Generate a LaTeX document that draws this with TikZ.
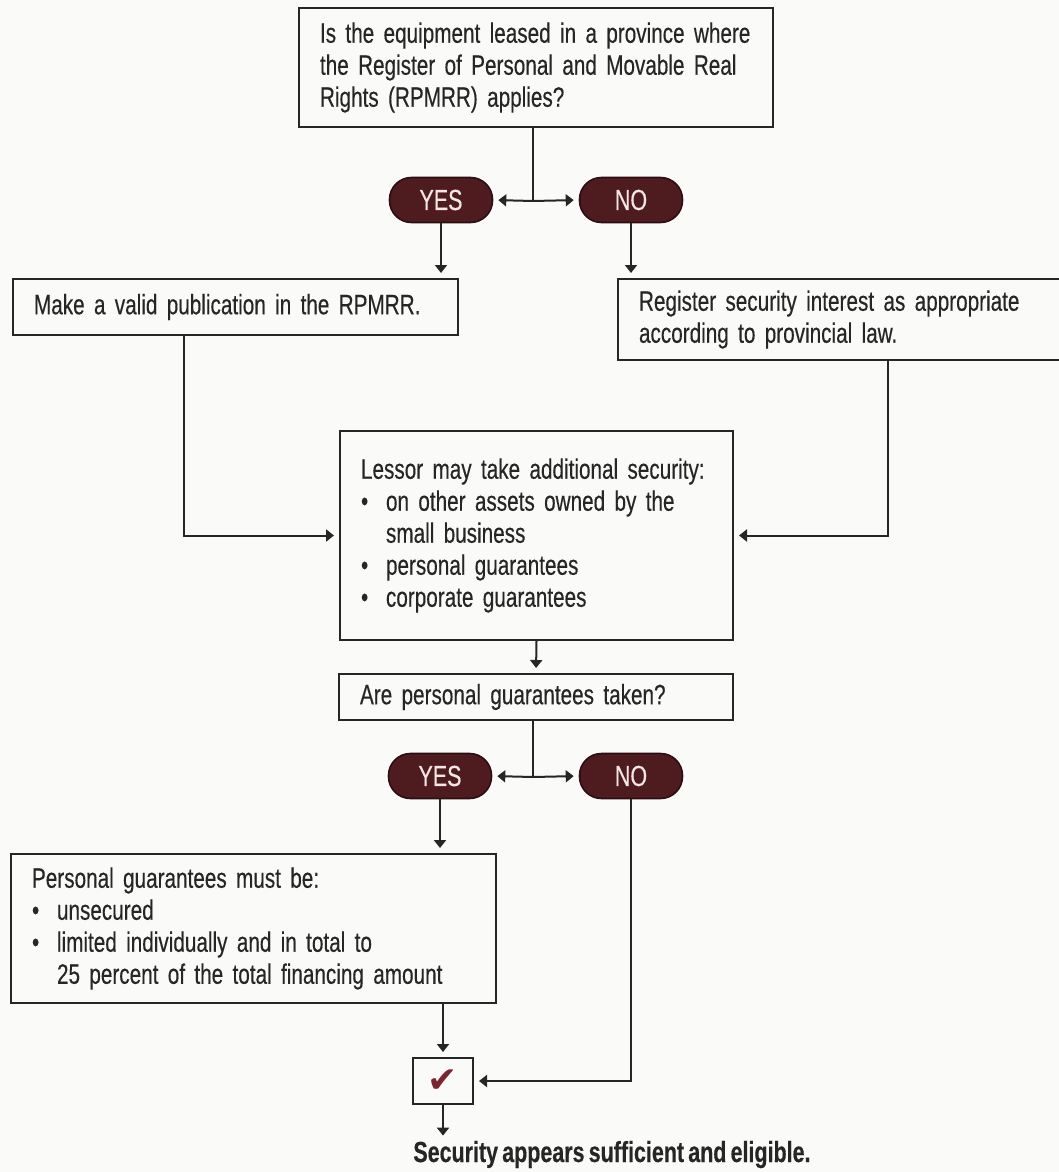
\documentclass[tikz,border=0pt]{standalone}
\usepackage{fontspec}
\setmainfont[FakeStretch=0.74, WordSpace=0.7, FakeBold=0.3]{Liberation Sans}
\newfontfamily\symfont{DejaVu Sans}
\usepackage{xcolor}
\usetikzlibrary{calc,arrows.meta}
\hyphenpenalty=10000
\definecolor{ink}{HTML}{262626}
\definecolor{paper}{HTML}{FAFAF8}
\definecolor{pillfill}{HTML}{4E1C1F}
\definecolor{pilledge}{HTML}{2A0E10}
\definecolor{pilltext}{HTML}{F4E6E4}
\definecolor{checkred}{HTML}{7A2530}
\tikzset{
  qbox/.style={draw=ink, line width=1pt, anchor=north west, align=left,
    inner xsep=10.5pt, inner ysep=0pt, text=ink, font=\fontsize{14}{16}\selectfont},
  pill/.style={draw=pilledge, fill=pillfill, line width=0.8pt, rounded corners=11pt,
    minimum width=51.5pt, minimum height=22.5pt, inner sep=0pt, text=pilltext,
    font=\fontsize{14.5}{16}\selectfont},
  chkbox/.style={draw=ink, line width=1pt, anchor=north west, inner sep=0pt,
    minimum width=30pt, minimum height=23pt},
  result/.style={anchor=base west, inner sep=0pt, text=ink,
    font=\fontsize{14.5}{16}\selectfont\bfseries},
  link/.style={draw=ink, line width=1pt},
  arrow/.style={link, -{Triangle[width=6pt,length=4pt]}, shorten >=2.5pt}
}
\newcommand{\bul}{\makebox[12.5pt][l]{\textbullet}}
\newcommand{\ind}{\hspace*{12.5pt}}

\begin{document}
\begin{tikzpicture}[x=0.5pt, y=-0.5pt]
  \fill[paper] (0,0) rectangle (1059,1172);
  \clip (0,0) rectangle (1059,1172);
  % first question
  \node[qbox, text width=216pt, minimum height=59.5pt] (q1) at (298,7)
    {Is the equipment leased in a province where\\
     the Register of Personal and Movable Real\\
     Rights (RPMRR) applies?};
  \node[pill] (yes1) at (441,200) {YES};
  \node[pill] (no1) at (631,200) {NO};
  \coordinate (j1) at (533,201);
  \node[qbox, text width=201.5pt, minimum height=28pt] (pub) at (12,278)
    {Make a valid publication in the RPMRR.};
  \node[qbox, text width=210.5pt, minimum height=40.5pt] (reg) at (617,278)
    {Register security interest as appropriate\\
     according to provincial law.};
  \node[qbox, text width=175.5pt, minimum height=104.5pt] (lessor) at (339,430)
    {Lessor may take additional security:\\
     \bul on other assets owned by the\\
     \ind small business\\
     \bul personal guarantees\\
     \bul corporate guarantees};
  % second question
  \node[qbox, text width=176pt, minimum height=23pt] (q2) at (338,673)
    {Are personal guarantees taken?};
  \node[pill] (yes2) at (440,776) {YES};
  \node[pill] (no2) at (631,776) {NO};
  \coordinate (j2) at (533,777);
  \node[qbox, text width=221.5pt, minimum height=74.5pt] (pg) at (10,853)
    {Personal guarantees must be:\\
     \bul unsecured\\
     \bul limited individually and in total to\\
     \ind 25 percent of the total financing amount};
  \node[chkbox] (chk) at (412,1057)
    {\fontsize{18}{18}\symfont\color{checkred}✔};
  \node[result] (res) at (413,1162) {Security appears sufficient and eligible.};

  \draw[link] (j1 |- q1.south) -- (j1);
  \draw[arrow] (j1) -- (yes1.east);
  \draw[arrow] (j1) -- (no1.west);
  \draw[arrow] (yes1.south) -- (yes1.south |- pub.north);
  \draw[arrow] (no1.south) -- (no1.south |- reg.north);
  \draw[arrow] ($(pub.south west)+(172,0)$) |- (lessor.west);
  \draw[arrow] ($(reg.south west)+(271,0)$) |- (lessor.east);
  \draw[arrow] (lessor.south) -- (q2.north);
  \draw[link] (j2 |- q2.south) -- (j2);
  \draw[arrow] (j2) -- (yes2.east);
  \draw[arrow] (j2) -- (no2.west);
  \draw[arrow] (yes2.south) -- (yes2.south |- pg.north);
  \draw[arrow] (chk.north |- pg.south) -- (chk.north);
  \draw[arrow] (no2.south) |- (chk.east);
  \draw[arrow] (chk.south) -- (chk.south |- res.north);
\end{tikzpicture}
\end{document}
